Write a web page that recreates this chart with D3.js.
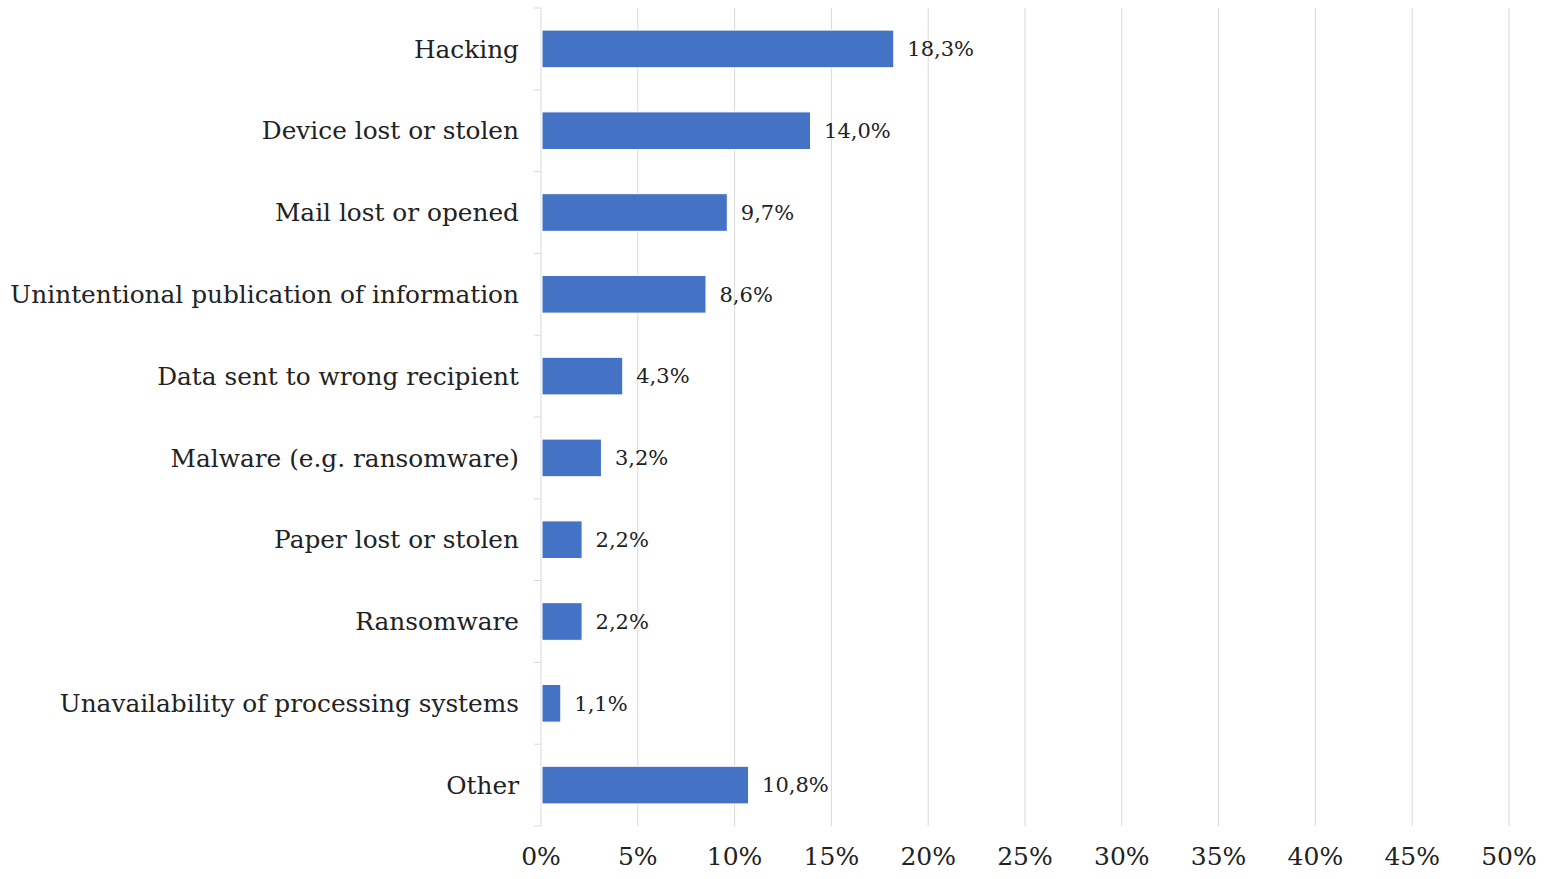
<!DOCTYPE html>
<html>
<head>
<meta charset="utf-8">
<script src="https://cdn.jsdelivr.net/npm/d3@7"></script>
<style>
  body { margin: 0; background: #fff; }
  text { font-family: "DejaVu Serif", serif; fill: #222; }
</style>
</head>
<body>
<script>
// dati
const categories = ["Hacking", "Device lost or stolen", "Mail lost or opened",
  "Unintentional publication of information", "Data sent to wrong recipient",
  "Malware (e.g. ransomware)", "Paper lost or stolen", "Ransomware",
  "Unavailability of processing systems", "Other"];
const values = [18.3, 14.0, 9.7, 8.6, 4.3, 3.2, 2.2, 2.2, 1.1, 10.8];
const ticks = [0, 5, 10, 15, 20, 25, 30, 35, 40, 45, 50];

const W = 1551, H = 879;
const plotLeft = 541, plotRight = 1509, plotTop = 8, plotBottom = 826;

var svg = d3.select("body").append("svg")
  .attr("width", W)
  .attr("height", H);

var x = d3.scaleLinear().domain([0, 50]).range([plotLeft, plotRight]);
var y = d3.scaleBand().domain(categories).range([plotTop, plotBottom]).paddingInner(0.54).paddingOuter(0.27);

// griglia verticale
svg.selectAll(".grid").data(ticks.slice(1)).enter().append("line")
  .attr("x1", d => x(d)).attr("x2", d => x(d))
  .attr("y1", plotTop).attr("y2", plotBottom)
  .attr("stroke", "#d9d9d9").attr("stroke-width", 1);

// asse delle categorie
svg.append("line")
  .attr("x1", plotLeft).attr("x2", plotLeft)
  .attr("y1", plotTop).attr("y2", plotBottom)
  .attr("stroke", "#d9d9d9");

var step = (plotBottom - plotTop) / categories.length;
svg.selectAll(".ytick").data(d3.range(categories.length + 1)).enter().append("line")
  .attr("x1", plotLeft - 7).attr("x2", plotLeft)
  .attr("y1", i => plotTop + i * step).attr("y2", i => plotTop + i * step)
  .attr("stroke", "#d9d9d9");

// barre
svg.selectAll(".bar").data(values).enter().append("rect")
  .attr("x", x(0) + 1)
  .attr("y", (d, i) => y(categories[i]))
  .attr("width", d => x(d) - x(0) - 2.5)
  .attr("height", y.bandwidth())
  .attr("fill", "#4472c4")
  .attr("stroke", "#fff").attr("stroke-width", 1);

// etichette valori
svg.selectAll(".val").data(values).enter().append("text")
  .attr("x", d => x(d) + 12)
  .attr("y", (d, i) => y(categories[i]) + y.bandwidth() / 2)
  .attr("dy", "0.35em")
  .style("font-size", "21px")
  .text(d => d.toFixed(1).replace(".", ",") + "%");

// etichette categorie
svg.selectAll(".cat").data(categories).enter().append("text")
  .attr("x", plotLeft - 22)
  .attr("y", d => y(d) + y.bandwidth() / 2)
  .attr("dy", "0.35em")
  .attr("text-anchor", "end")
  .style("font-size", "24.8px")
  .text(d => d);

// etichette asse x
svg.selectAll(".xt").data(ticks).enter().append("text")
  .attr("x", d => x(d))
  .attr("y", 856)
  .attr("dy", "0.35em")
  .attr("text-anchor", "middle")
  .style("font-size", "25px")
  .text(d => d + "%");
</script>
</body>
</html>
